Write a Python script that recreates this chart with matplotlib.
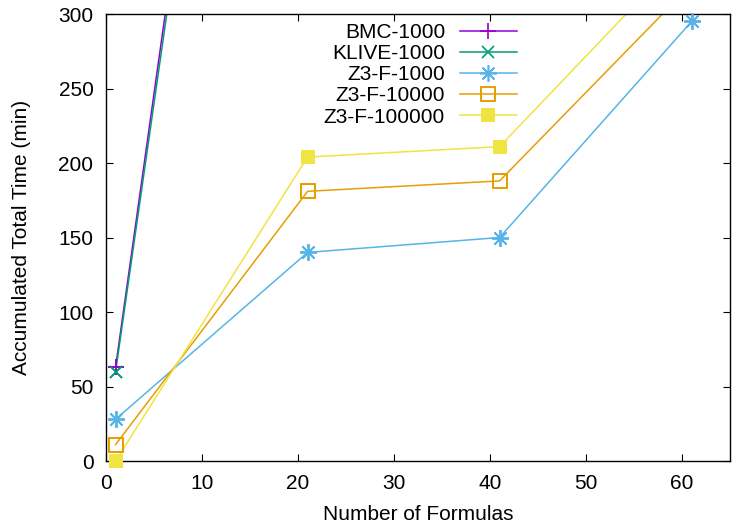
import matplotlib
matplotlib.use("Agg")
import matplotlib.pyplot as plt

plt.rcParams['font.family'] = ['Liberation Sans', 'DejaVu Sans']
plt.rcParams['font.size'] = 15

# datos
formulas = [1, 21, 41, 61]
bmc_1000 = [63, 980, 1900, 2800]
klive_1000 = [60, 960, 1860, 2750]
z3_1000 = [28, 140, 150, 295]
z3_10000 = [11, 181, 188, 320]
z3_100000 = [0, 204, 211, 346]

series = [
    ('BMC-1000', bmc_1000, '#9400d3', dict(marker='+', ms=12, mew=1.2)),
    ('KLIVE-1000', klive_1000, '#009e73', dict(marker='x', ms=9, mew=1.2)),
    ('Z3-F-1000', z3_1000, '#56b4e9', dict(marker=(8, 2, 0), ms=12, mew=1.2)),
    ('Z3-F-10000', z3_10000, '#e69f00', dict(marker='s', ms=9.5, mew=1.4, mfc='none')),
    ('Z3-F-100000', z3_100000, '#f0e442', dict(marker='s', ms=10, mew=0)),
]

fig = plt.figure(figsize=(7.37, 5.29), dpi=100)
ax = fig.add_axes([0.1438, 0.1285, 0.8467, 0.845])

ymax = 300
for name, vals, color, mk in series:
    ax.plot(formulas, vals, color=color, lw=1.1, label=name, **mk)
    # marcadores sin recorte dentro del rango visible
    xs = [x for x, v in zip(formulas, vals) if v <= ymax]
    vs = [v for v in vals if v <= ymax]
    ax.plot(xs, vs, ls='none', color=color, clip_on=False, zorder=3, **mk)

ax.set_xlim(0, 65)
ax.set_ylim(0, ymax)
ax.set_xticks(range(0, 61, 10))
ax.set_yticks(range(0, 301, 50))
ax.tick_params(direction='in', length=5, width=0.8, top=True, right=True, pad=9)
for s in ax.spines.values():
    s.set_linewidth(1.0)

ax.set_xlabel('Number of Formulas', labelpad=9)
ax.set_ylabel('Accumulated Total Time (min)', labelpad=20)

ax.legend(loc='upper right', bbox_to_anchor=(0.672, 0.998), frameon=False,
          markerfirst=False, handlelength=2.75, handletextpad=0.7,
          labelspacing=0.1, borderaxespad=0.0)

plt.savefig('out.png', dpi=100)
